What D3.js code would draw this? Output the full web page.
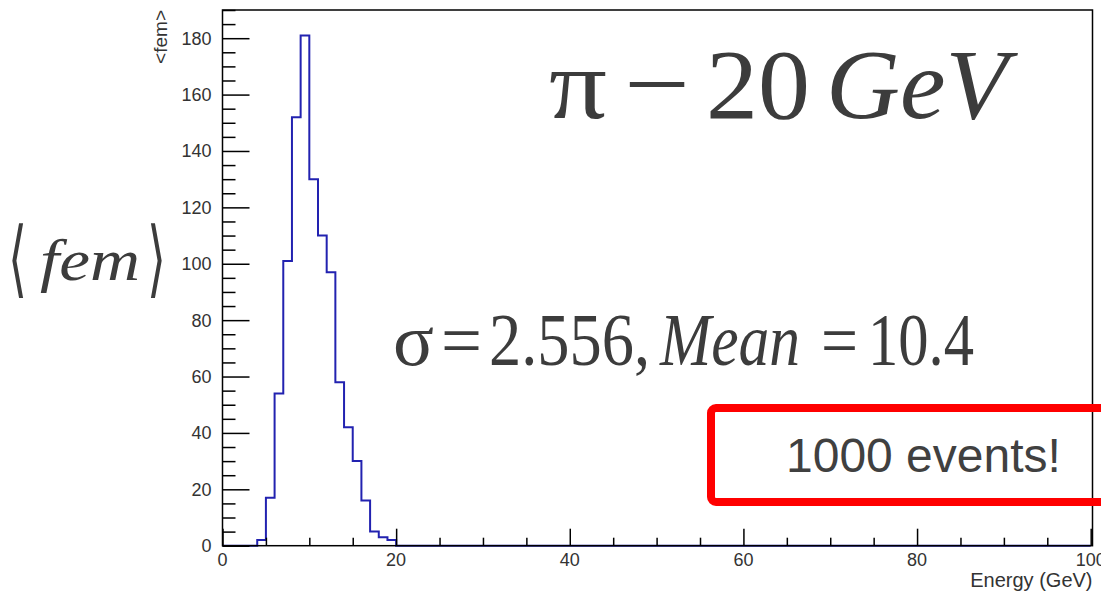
<!DOCTYPE html>
<html>
<head>
<meta charset="utf-8">
<script src="https://cdn.jsdelivr.net/npm/d3@7"></script>
<style>
  html, body { margin: 0; padding: 0; background: #ffffff; }
  svg { display: block; }
</style>
</head>
<body>
<svg id="chart" width="1101" height="593"></svg>
<script>
// Histogram of fem for 20 GeV pions: 1 GeV bins, lower edges and counts
const binLowEdges = [4, 5, 6, 7, 8, 9, 10, 11, 12, 13, 14, 15, 16, 17, 18, 19];
const binCounts   = [2, 17, 54, 101, 152, 181, 130, 110, 97, 58, 42, 30, 16, 5, 3, 2];
const binWidth = 1;

// Axis tick values
const xMajorTicks = [0, 20, 40, 60, 80, 100];
const yMajorTicks = [0, 20, 40, 60, 80, 100, 120, 140, 160, 180];
const minorStep = 5;

const xDomain = [0, 100];
const yDomain = [0, 190];

const svg = d3.select("#chart");

const frame = { left: 222.5, right: 1092.5, top: 10, bottom: 545.7 };
const x = d3.scaleLinear().domain(xDomain).range([frame.left, 1090.7]);
const y = d3.scaleLinear().domain(yDomain).range([frame.bottom, frame.top]);

const tickFont = "'Liberation Sans', Arial, Helvetica, sans-serif";
const serif = "'Liberation Serif', 'Times New Roman', serif";
const textGray = "#3c3c3c";

// Histogram outline: a single stepped contour over the filled bins
const pts = [[xDomain[0], 0], [binLowEdges[0], 0]];
binLowEdges.forEach((lo, i) => {
  pts.push([lo, binCounts[i]]);
  pts.push([lo + binWidth, binCounts[i]]);
});
pts.push([binLowEdges[binLowEdges.length - 1] + binWidth, 0]);
pts.push([xDomain[1], 0]);
const line = d3.line().x(d => x(d[0])).y(d => y(d[1]));
svg.append("path")
  .attr("d", line(pts))
  .attr("fill", "none")
  .attr("stroke", "#2222b0")
  .attr("stroke-width", 2)
  .attr("stroke-linejoin", "miter");

// Frame
svg.append("rect")
  .attr("x", frame.left).attr("y", frame.top)
  .attr("width", frame.right - frame.left)
  .attr("height", frame.bottom - frame.top)
  .attr("fill", "none")
  .attr("stroke", "#000")
  .attr("stroke-width", 1.5);

// Y axis: major and minor ticks pointing inward
const yMinor = d3.range(yDomain[0], yDomain[1] + 0.001, minorStep).filter(v => !yMajorTicks.includes(v));
const yAxisMajor = d3.axisRight(y).tickValues(yMajorTicks).tickSize(27).tickFormat("");
const yAxisMinor = d3.axisRight(y).tickValues(yMinor).tickSize(13).tickFormat("");
[yAxisMajor, yAxisMinor].forEach(ax => {
  const g = svg.append("g").attr("transform", `translate(${frame.left},0)`).call(ax);
  g.select(".domain").remove();
  g.selectAll("line").attr("stroke", "#000").attr("stroke-width", 1.5);
});
svg.append("g").selectAll("text").data(yMajorTicks).join("text")
  .attr("x", 211.5)
  .attr("y", d => y(d))
  .attr("dy", "0.36em")
  .attr("text-anchor", "end")
  .attr("font-family", tickFont)
  .attr("font-size", 18)
  .attr("fill", "#333")
  .text(d => d);

// X axis: major and minor ticks pointing up
const xMinor = d3.range(xDomain[0], xDomain[1] + 0.001, minorStep).filter(v => !xMajorTicks.includes(v));
const xAxisMajor = d3.axisTop(x).tickValues(xMajorTicks).tickSize(17).tickFormat("");
const xAxisMinor = d3.axisTop(x).tickValues(xMinor).tickSize(8).tickFormat("");
[xAxisMajor, xAxisMinor].forEach(ax => {
  const g = svg.append("g").attr("transform", `translate(0,${frame.bottom})`).call(ax);
  g.select(".domain").remove();
  g.selectAll("line").attr("stroke", "#000").attr("stroke-width", 1.5);
});
svg.append("g").selectAll("text").data(xMajorTicks).join("text")
  .attr("x", d => x(d))
  .attr("y", 566)
  .attr("text-anchor", "middle")
  .attr("font-family", tickFont)
  .attr("font-size", 18)
  .attr("fill", "#333")
  .text(d => d);

// Axis titles
svg.append("text")
  .attr("x", frame.right)
  .attr("y", 587)
  .attr("text-anchor", "end")
  .attr("font-family", tickFont)
  .attr("font-size", 20)
  .attr("fill", "#333")
  .text("Energy (GeV)");

svg.append("text")
  .attr("transform", `translate(167,${frame.top}) rotate(-90)`)
  .attr("text-anchor", "end")
  .attr("font-family", tickFont)
  .attr("font-size", 19)
  .attr("fill", "#333")
  .text("<fem>");

// Latex-style formula pieces, each fitted between a left and right edge
function piece(str, x0, x1, baseline, size, opts = {}) {
  return svg.append("text")
    .attr("x", x0)
    .attr("y", baseline)
    .attr("font-family", opts.family || serif)
    .attr("font-size", size)
    .attr("font-style", opts.italic ? "italic" : "normal")
    .attr("font-weight", opts.weight || "normal")
    .attr("fill", textGray)
    .attr("textLength", x1 - x0)
    .attr("lengthAdjust", "spacingAndGlyphs")
    .text(str);
}

// Large label on the left: <fem>
piece("\u27E8", 8, 27, 287, 84, { family: "'DejaVu Serif', serif", weight: 200 });
piece("fem", 40, 140, 280, 60, { italic: true });
piece("\u27E9", 147, 166, 287, 84, { family: "'DejaVu Serif', serif", weight: 200 });

// Title: pi - 20 GeV
piece("\u03C0", 549, 607, 118, 100);
piece("\u2212", 624, 690, 118, 100);
piece("20", 706, 810, 118, 100);
piece("GeV", 826, 1008, 118, 100, { italic: true });

// Fit summary
piece("\u03C3", 393, 434, 365, 74);
piece("=", 441, 482, 365, 74);
piece("2.556,", 489, 650, 365, 74);
piece("Mean", 660, 800, 365, 74, { italic: true });
piece("=", 821, 858, 365, 74);
piece("10.4", 868, 974, 365, 74);

// Event count callout
svg.append("rect")
  .attr("x", 711).attr("y", 408)
  .attr("width", 420).attr("height", 94)
  .attr("rx", 5)
  .attr("fill", "none")
  .attr("stroke", "#ff0000")
  .attr("stroke-width", 8);
svg.append("text")
  .attr("x", 786)
  .attr("y", 472)
  .attr("font-family", tickFont)
  .attr("font-size", 48)
  .attr("fill", "#404040")
  .text("1000 events!");
</script>
</body>
</html>
